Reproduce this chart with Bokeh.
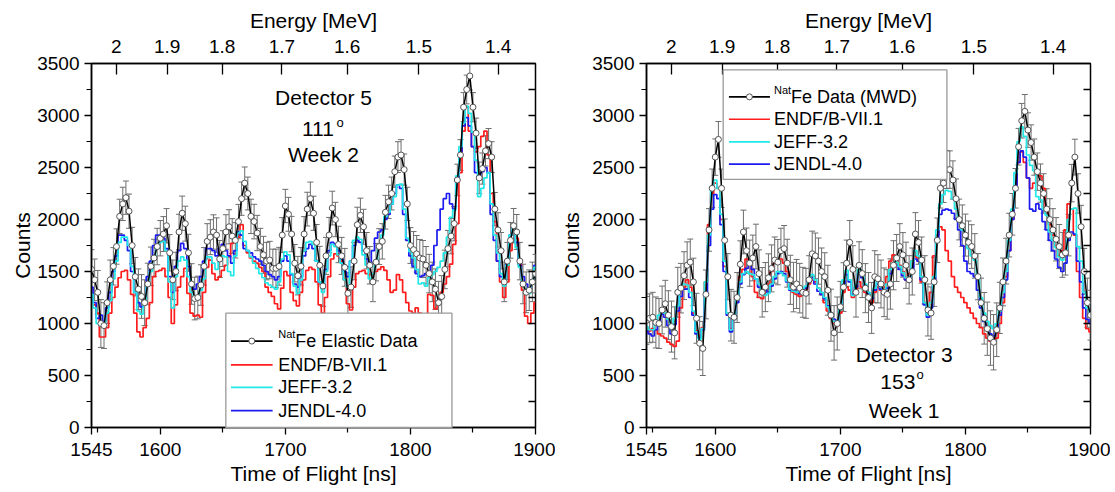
import math
from bokeh.plotting import figure
from bokeh.models import Range1d, LinearAxis, FixedTicker, CustomJSTickFormatter
from bokeh.layouts import row
from bokeh.embed import file_html
from bokeh.resources import INLINE
from bokeh.core.properties import value

FONT = "Liberation Sans"

# ---------------- data ----------------
tof = [
    1545.0, 1547.5, 1550.0, 1552.5, 1555.0, 1557.5, 1560.0, 1562.5, 1565.0, 1567.5,
    1570.0, 1572.5, 1575.0, 1577.5, 1580.0, 1582.5, 1585.0, 1587.5, 1590.0, 1592.5,
    1595.0, 1597.5, 1600.0, 1602.5, 1605.0, 1607.5, 1610.0, 1612.5, 1615.0, 1617.5,
    1620.0, 1622.5, 1625.0, 1627.5, 1630.0, 1632.5, 1635.0, 1637.5, 1640.0, 1642.5,
    1645.0, 1647.5, 1650.0, 1652.5, 1655.0, 1657.5, 1660.0, 1662.5, 1665.0, 1667.5,
    1670.0, 1672.5, 1675.0, 1677.5, 1680.0, 1682.5, 1685.0, 1687.5, 1690.0, 1692.5,
    1695.0, 1697.5, 1700.0, 1702.5, 1705.0, 1707.5, 1710.0, 1712.5, 1715.0, 1717.5,
    1720.0, 1722.5, 1725.0, 1727.5, 1730.0, 1732.5, 1735.0, 1737.5, 1740.0, 1742.5,
    1745.0, 1747.5, 1750.0, 1752.5, 1755.0, 1757.5, 1760.0, 1762.5, 1765.0, 1767.5,
    1770.0, 1772.5, 1775.0, 1777.5, 1780.0, 1782.5, 1785.0, 1787.5, 1790.0, 1792.5,
    1795.0, 1797.5, 1800.0, 1802.5, 1805.0, 1807.5, 1810.0, 1812.5, 1815.0, 1817.5,
    1820.0, 1822.5, 1825.0, 1827.5, 1830.0, 1832.5, 1835.0, 1837.5, 1840.0, 1842.5,
    1845.0, 1847.5, 1850.0, 1852.5, 1855.0, 1857.5, 1860.0, 1862.5, 1865.0, 1867.5,
    1870.0, 1872.5, 1875.0, 1877.5, 1880.0, 1882.5, 1885.0, 1887.5, 1890.0, 1892.5,
    1895.0, 1897.5, 1900.0,
]

# Left panel: Detector 5, 111 deg, Week 2
left_data = [
    1520, 1420, 1300, 1000, 980, 1200, 1420, 1550, 1740, 2030,
    2150, 2210, 2080, 1750, 1450, 1330, 1260, 1200, 1380, 1550,
    1630, 1740, 1820, 1860, 1940, 1680, 1420, 1500, 1880, 2060,
    1960, 1680, 1380, 1240, 1250, 1370, 1550, 1790, 1830, 1880,
    1850, 1620, 1720, 1880, 1930, 1840, 1800, 1980, 2200, 2350,
    2250, 2030, 1980, 1870, 1740, 1660, 1600, 1610, 1530, 1530,
    1550, 1850, 2130, 2050, 1860, 1580, 1460, 1550, 1860, 2100,
    2200, 2060, 1780, 1560, 1360, 1650, 1850, 2110, 2000, 1760,
    1650, 1540, 1290, 1350, 1600, 1950, 2040, 1930, 1700, 1560,
    1400, 1590, 1740, 1790, 2070, 2170, 2250, 2460, 2600, 2620,
    2480, 2150, 1750, 1710, 1670, 1630, 1620, 1560, 1480, 1400,
    1330, 1200, 1260, 1520, 1720, 1840, 1960, 2380, 2620, 3080,
    3250, 3380, 3080, 2830, 2400, 2490, 2660, 2730, 2600, 2100,
    1900, 1700, 1400, 1600, 1800, 1940, 1880, 1600, 1380, 1300,
    1320, 1400, 1480,
]
left_err = [
    190, 200, 210, 230, 220, 200, 190, 180, 170, 165,
    160, 160, 165, 175, 185, 195, 210, 220, 200, 185,
    180, 175, 170, 168, 165, 175, 190, 185, 170, 165,
    168, 178, 195, 205, 205, 195, 180, 170, 168, 165,
    166, 178, 172, 166, 164, 168, 170, 165, 160, 155,
    158, 165, 166, 170, 175, 178, 180, 180, 185, 185,
    182, 168, 160, 163, 170, 180, 185, 180, 168, 162,
    160, 164, 172, 182, 195, 178, 170, 162, 165, 175,
    178, 182, 198, 195, 180, 168, 165, 168, 175, 180,
    190, 180, 172, 170, 162, 160, 158, 150, 148, 148,
    150, 160, 172, 174, 176, 178, 178, 180, 185, 190,
    195, 205, 200, 185, 175, 170, 165, 152, 148, 140,
    138, 135, 140, 145, 152, 150, 146, 145, 148, 160,
    165, 175, 190, 180, 172, 166, 168, 180, 190, 196,
    195, 190, 185,
]
left_endf = [
    1250, 1180, 1100, 870, 870, 960, 1100, 1250, 1350, 1440,
    1500, 1510, 1420, 1280, 1100, 920, 870, 960, 1050, 1200,
    1450, 1500, 1510, 1530, 1450, 1250, 1000, 1180, 1350, 1450,
    1530, 1290, 1100, 1070, 1080, 1060, 1300, 1540, 1610, 1480,
    1420, 1450, 1510, 1560, 1640, 1770, 1800, 1830, 1950, 1750,
    1680, 1630, 1600, 1580, 1540, 1500, 1350, 1300, 1260, 1190,
    1140, 1340, 1500, 1460, 1300, 1220, 1170, 1300, 1420, 1510,
    1540, 1520, 1400, 1180, 1100, 1250, 1450, 1620, 1670, 1650,
    1600, 1420, 1190, 1130, 1350, 1480, 1500, 1510, 1480, 1470,
    1480, 1500, 1520, 1545, 1510, 1420, 1300, 1320, 1470, 1420,
    1300, 1200, 1120, 1100, 1150, 1100, 1080, 1020, 1280, 1270,
    1140, 1180, 1300, 1380, 1450, 1570, 1760, 1960, 2450, 2850,
    3080, 2850, 2700, 2650, 2700, 2800, 2850, 2620, 2250, 1980,
    1600, 1400, 1250, 1400, 1700, 1800, 1820, 1600, 1320, 1070,
    1000, 1100, 1200,
]
left_jeff = [
    1280, 1150, 1000, 980, 990, 1100, 1220, 1430, 1600, 1780,
    1830, 1830, 1750, 1550, 1300, 1120, 1090, 1200, 1380, 1500,
    1650, 1720, 1780, 1790, 1700, 1400, 1150, 1450, 1600, 1640,
    1610, 1450, 1300, 1260, 1240, 1320, 1430, 1640, 1640, 1580,
    1520, 1600, 1650, 1640, 1500, 1460, 1650, 1870, 1890, 1790,
    1700, 1640, 1580, 1530, 1480, 1440, 1390, 1370, 1350, 1330,
    1400, 1620, 1690, 1660, 1480, 1360, 1290, 1420, 1700, 1780,
    1790, 1760, 1600, 1400, 1300, 1500, 1650, 1760, 1740, 1660,
    1580, 1420, 1350, 1600, 1800, 1830, 1810, 1660, 1560, 1430,
    1480, 1600, 1720, 1850, 2030, 2070, 2150, 2220, 2330, 2340,
    2100, 1820, 1690, 1630, 1520, 1380, 1390, 1360, 1440, 1470,
    1500, 1540, 1600, 1680, 1830, 2020, 2090, 2420, 2700, 2930,
    3090, 3020, 2840, 2570, 2220, 2300, 2400, 2450, 2150, 1850,
    1680, 1480, 1360, 1560, 1850, 1930, 1730, 1540, 1400, 1330,
    1290, 1400, 1540,
]
left_jendl = [
    1350, 1200, 1050, 1080, 1020, 1150, 1300, 1500, 1650, 1850,
    1850, 1800, 1700, 1500, 1300, 1200, 1160, 1250, 1450, 1600,
    1750, 1850, 1850, 1820, 1720, 1450, 1300, 1550, 1700, 1770,
    1720, 1550, 1380, 1330, 1380, 1450, 1600, 1720, 1720, 1700,
    1650, 1720, 1760, 1700, 1650, 1580, 1700, 1880, 1850, 1720,
    1700, 1680, 1640, 1620, 1600, 1560, 1500, 1470, 1450, 1420,
    1450, 1600, 1650, 1600, 1470, 1380, 1350, 1450, 1650, 1720,
    1760, 1720, 1600, 1400, 1340, 1520, 1700, 1780, 1760, 1700,
    1620, 1500, 1450, 1600, 1750, 1800, 1780, 1700, 1620, 1580,
    1700, 1820, 1880, 1900, 2000, 2050, 2150, 2250, 2330, 2300,
    2050, 1800, 1650, 1550, 1480, 1450, 1460, 1480, 1500, 1560,
    1750, 1900, 2100, 2200, 2250, 2150, 2100, 2400, 2650, 2900,
    2980, 2900, 2700, 2450, 2380, 2460, 2500, 2450, 2050, 1800,
    1600, 1450, 1380, 1600, 1850, 1950, 1780, 1560, 1450, 1380,
    1330, 1420, 1560,
]

# Right panel: Detector 3, 153 deg, Week 1
right_data = [
    1030, 1050, 1060, 1010, 1000, 1130, 1190, 1080, 970, 910,
    1300, 1340, 1460, 1560, 1590, 1400, 1050, 810, 760, 1280,
    1900, 2300, 2600, 2770, 2300, 1800, 1450, 1080, 1060, 1250,
    1570, 1880, 1700, 1580, 1630, 1740, 1480, 1300, 1350, 1440,
    1530, 1610, 1590, 1700, 1720, 1580, 1420, 1350, 1380, 1340,
    1300, 1290, 1420, 1670, 1650, 1600, 1500, 1450, 1320, 1080,
    910, 1000, 1160, 1350, 1580, 1780, 1520, 1300, 1560, 1480,
    1340, 1250, 1150, 1450, 1430, 1380, 1300, 1280, 1380, 1560,
    1630, 1740, 1660, 1560, 1420, 1500, 1860, 1780, 1610, 1420,
    1130, 1100, 1400, 1800, 2300, 2350, 2480, 2480, 2380, 2200,
    2000, 1940, 1850, 1780, 1740, 1650, 1450, 1200, 1050, 950,
    860, 820, 940, 1150, 1400, 1600, 1850, 2050, 2300, 2700,
    2950, 3040, 2860, 2740, 2600, 2460, 2350, 2250, 2100, 2000,
    1900, 1810, 1740, 1660, 1680, 1850, 2350, 2600, 2250, 1930,
    1500, 1200, 1080,
]
right_err = [
    230, 235, 240, 245, 240, 230, 225, 235, 245, 250,
    240, 238, 230, 225, 222, 228, 240, 255, 260, 235,
    205, 185, 175, 172, 185, 205, 222, 248, 250, 240,
    225, 210, 218, 222, 220, 215, 228, 238, 236, 230,
    226, 222, 218, 216, 222, 230, 236, 238, 236, 238,
    240, 240, 232, 218, 220, 222, 226, 230, 240, 250,
    262, 255, 245, 234, 222, 210, 228, 238, 226, 230,
    236, 240, 245, 250, 232, 230, 234, 238, 242, 236,
    226, 220, 214, 222, 232, 226, 206, 210, 222, 232,
    250, 252, 236, 214, 190, 186, 182, 180, 184, 190,
    196, 200, 202, 206, 210, 214, 222, 236, 248, 256,
    262, 266, 258, 246, 230, 220, 210, 200, 190, 176,
    166, 162, 166, 170, 174, 180, 184, 190, 196, 200,
    204, 208, 212, 216, 214, 200, 180, 172, 190, 206,
    222, 236, 240,
]
right_endf = [
    960, 930, 950, 940, 900, 880, 860, 820, 800, 780,
    830, 1150, 1350, 1420, 1350, 1100, 930, 880, 960, 1400,
    1950, 2250, 2350, 2300, 2000, 1550, 1100, 950, 1060, 1250,
    1450, 1520, 1620, 1600, 1450, 1300, 1250, 1240, 1300, 1380,
    1500, 1580, 1600, 1620, 1580, 1500, 1360, 1300, 1280, 1260,
    1280, 1320, 1380, 1420, 1400, 1340, 1280, 1200, 1120, 1050,
    1000, 980, 1100, 1300, 1350, 1320, 1250, 1330, 1400, 1350,
    1300, 1260, 1200, 1300, 1350, 1320, 1350, 1450, 1600, 1660,
    1620, 1560, 1500, 1420, 1480, 1600, 1640, 1600, 1400, 1200,
    1120, 1300, 1650, 1850, 1930, 1900, 1700, 1600, 1450, 1350,
    1300, 1250, 1200, 1150, 1100, 1050, 1000, 960, 900, 860,
    830, 820, 860, 1000, 1200, 1450, 1700, 2000, 2300, 2550,
    2650, 2550, 2400, 2300, 2350, 2450, 2420, 2300, 2100, 1950,
    1850, 1750, 1650, 1700, 1900, 2150, 2100, 1850, 1500, 1250,
    1050, 950, 920,
]
right_jeff = [
    970, 940, 940, 1010, 1080, 1130, 1100, 1040, 950, 1050,
    1170, 1320, 1380, 1370, 1300, 1120, 920, 850, 950, 1400,
    1850, 2300, 2380, 2300, 2050, 1600, 1100, 940, 1060, 1230,
    1400, 1480, 1500, 1480, 1470, 1430, 1380, 1300, 1270, 1290,
    1380, 1450, 1500, 1490, 1460, 1410, 1330, 1310, 1300, 1320,
    1340, 1360, 1430, 1470, 1420, 1340, 1300, 1250, 1160, 1080,
    1020, 1000, 1130, 1420, 1510, 1420, 1270, 1380, 1520, 1480,
    1380, 1300, 1260, 1340, 1410, 1350, 1290, 1380, 1520, 1580,
    1590, 1550, 1490, 1440, 1450, 1600, 1700, 1650, 1450, 1200,
    1080, 1200, 1450, 1900, 2150, 2240, 2280, 2270, 2200, 2100,
    2000, 1900, 1830, 1720, 1650, 1610, 1450, 1250, 1100, 1020,
    980, 950, 1000, 1120, 1300, 1500, 1800, 2100, 2450, 2750,
    2890, 2800, 2620, 2520, 2470, 2220, 2190, 2100, 2040, 1880,
    1800, 1730, 1640, 1610, 1700, 2000, 2100, 2110, 1740, 1600,
    1300, 1150, 1100,
]
right_jendl = [
    930, 900, 880, 940, 1020, 1090, 1060, 980, 900, 990,
    1120, 1260, 1330, 1330, 1250, 1080, 900, 860, 940, 1300,
    1750, 2100, 2240, 2200, 1950, 1500, 1080, 920, 1040, 1200,
    1380, 1470, 1530, 1580, 1520, 1430, 1350, 1300, 1330, 1300,
    1360, 1430, 1480, 1500, 1480, 1400, 1320, 1310, 1330, 1290,
    1300, 1340, 1400, 1440, 1380, 1310, 1280, 1240, 1170, 1100,
    1040, 1010, 1150, 1380, 1470, 1400, 1280, 1350, 1480, 1440,
    1360, 1290, 1240, 1320, 1380, 1330, 1280, 1340, 1480, 1560,
    1560, 1520, 1460, 1420, 1400, 1530, 1620, 1600, 1420, 1180,
    1060, 1150, 1380, 1800, 2050, 2090, 2100, 2090, 2060, 2000,
    1900, 1750, 1600, 1500, 1480, 1450, 1320, 1150, 1020, 960,
    900, 880, 950, 1080, 1250, 1420, 1700, 2000, 2300, 2550,
    2660, 2600, 2400, 2100, 2080, 2150, 2100, 1980, 1900, 1800,
    1700, 1620, 1540, 1500, 1580, 1800, 1880, 1860, 1600, 1400,
    1150, 1040, 1000,
]

x_ticks = [1545, 1600, 1700, 1800, 1900]
x_minor_ticks = [1550, 1650, 1750, 1850]
y_ticks = [0, 500, 1000, 1500, 2000, 2500, 3000, 3500]
y_minor_ticks = [250, 750, 1250, 1750, 2250, 2750, 3250]
right_ticks = [250, 500, 750, 1000, 1250, 1500, 1750, 2000, 2250,
               2500, 2750, 3000, 3250]
energy_ticks = [2.0, 1.9, 1.8, 1.7, 1.6, 1.5, 1.4]
# time of flight <-> energy conversion: t = T0 + L / sqrt(E)
TOF_L = 2211.0
TOF_T0 = 1.5
energy_tof = [TOF_T0 + TOF_L / (e ** 0.5) for e in energy_ticks]

series_names = ["ENDF/B-VII.1", "JEFF-3.2", "JENDL-4.0"]
colors = {"ENDF/B-VII.1": "#ff1c1c", "JEFF-3.2": "#22e8e8", "JENDL-4.0": "#1c1cf0"}

X_MIN, X_MAX = 1545, 1900
Y_MIN, Y_MAX = 0, 3500


def style_axis(ax):
    ax.axis_line_width = 1.5
    ax.axis_line_color = "black"
    ax.major_tick_line_color = "black"
    ax.minor_tick_line_color = "black"
    ax.major_tick_line_width = 1.3
    ax.minor_tick_line_width = 1.2
    ax.major_label_text_font = FONT
    ax.major_label_text_font_size = "19px"
    ax.major_label_text_color = "black"
    ax.axis_label_text_font = FONT
    ax.axis_label_text_font_size = "21px"
    ax.axis_label_text_font_style = "normal"
    ax.axis_label_text_color = "black"


def build(data, err, endf, jeff, jendl, ylabel_standoff, legend, notes):
    p = figure(width=555, height=492, x_range=Range1d(X_MIN, X_MAX),
               y_range=Range1d(Y_MIN, Y_MAX), output_backend="svg",
               toolbar_location=None, min_border_left=91,
               min_border_right=20, min_border_top=63,
               min_border_bottom=65)
    p.xgrid.visible = False
    p.ygrid.visible = False
    p.outline_line_color = "black"
    p.outline_line_width = 1.5
    p.background_fill_color = "white"
    p.border_fill_color = "white"

    # error bars
    lo = [d - e for d, e in zip(data, err)]
    hi = [d + e for d, e in zip(data, err)]
    cap = 2.4
    p.segment(tof, lo, tof, hi, line_color="#6e6e6e", line_width=1)
    p.segment([t - cap for t in tof], hi, [t + cap for t in tof], hi,
              line_color="#6e6e6e", line_width=1)
    p.segment([t - cap for t in tof], lo, [t + cap for t in tof], lo,
              line_color="#6e6e6e", line_width=1)

    # evaluations
    p.step(tof, endf, mode="center", line_color=colors["ENDF/B-VII.1"], line_width=1.7)
    p.step(tof, jendl, mode="center", line_color=colors["JENDL-4.0"], line_width=1.7)
    p.step(tof, jeff, mode="center", line_color=colors["JEFF-3.2"], line_width=1.7)

    # data
    p.line(tof, data, line_color="black", line_width=1.5)
    p.scatter(tof, data, marker="circle", size=6, fill_color="white",
              line_color="#555555", line_width=1)

    # inward ticks on the right frame edge (no labels there)
    p.ray(x=[X_MAX] * len(right_ticks), y=right_ticks, length=7,
          length_units="screen", angle=math.pi, line_color="black",
          line_width=1.3)

    # axes
    p.xaxis.ticker = FixedTicker(ticks=x_ticks, minor_ticks=x_minor_ticks)
    p.xaxis.axis_label = "Time of Flight [ns]"
    p.yaxis.ticker = FixedTicker(ticks=y_ticks, minor_ticks=y_minor_ticks)
    p.yaxis.axis_label = "Counts"
    for ax in p.xaxis + p.yaxis:
        style_axis(ax)
    p.xaxis.major_tick_in = 0
    p.xaxis.major_tick_out = 7
    p.xaxis.minor_tick_in = 0
    p.xaxis.minor_tick_out = 5
    p.xaxis.major_label_standoff = 8
    p.xaxis.axis_label_standoff = 3
    p.yaxis.major_tick_in = 0
    p.yaxis.major_tick_out = 7
    p.yaxis.minor_tick_in = 0
    p.yaxis.minor_tick_out = 5
    p.yaxis.major_label_standoff = 5
    p.yaxis.axis_label_standoff = ylabel_standoff

    top = LinearAxis(
        ticker=FixedTicker(ticks=energy_tof, minor_ticks=[]),
        formatter=CustomJSTickFormatter(
            args=dict(L=TOF_L, t0=TOF_T0),
            code="const e = Math.pow(L/(tick - t0), 2);"
                 "const r = Math.round(e*10)/10;"
                 "return (Math.abs(r - Math.round(r)) < 1e-6) ? r.toFixed(0) : r.toFixed(1);"),
        axis_label="Energy [MeV]")
    style_axis(top)
    top.major_tick_in = 11
    top.major_tick_out = 0
    top.minor_tick_in = 0
    top.minor_tick_out = 0
    top.major_label_standoff = 11
    top.axis_label_standoff = 5
    p.add_layout(top, "above")

    # legend (drawn by hand so that the superscript fits)
    p.quad(left=[legend["left"]], right=[legend["right"]],
           bottom=[legend["bottom"]], top=[legend["top"]],
           fill_color="white", line_color="#9a9a9a", line_width=1.3,
           level="annotation")
    rows_y = legend["rows"]
    x0, x1 = legend["line"]
    line_cols = ["black"] + [colors[n] for n in series_names]
    p.segment([x0] * 4, rows_y, [x1] * 4, rows_y, line_color=line_cols,
              line_width=1.7, level="overlay")
    p.scatter([(x0 + x1) / 2], [rows_y[0]], marker="circle", size=6,
              fill_color="white", line_color="#555555", line_width=1,
              level="overlay")
    p.text(x=[legend["text_x"]] * 3, y=rows_y[1:], text=series_names,
           text_font=value(FONT), text_font_size="18px", text_color="black",
           text_baseline="middle", text_align="left", level="overlay")
    p.text(x=[legend["text_x"]], y=[rows_y[0] + legend["sup_dy"]], text=["Nat"],
           text_font=value(FONT), text_font_size="11px", text_color="black",
           text_baseline="middle", text_align="left", level="overlay")
    p.text(x=[legend["fe_x"]], y=[rows_y[0]], text=[legend["data_label"]],
           text_font=value(FONT), text_font_size="18px", text_color="black",
           text_baseline="middle", text_align="left", level="overlay")

    # detector notes
    p.text(x=notes["x"], y=notes["y"], text=notes["text"],
           text_font=value(FONT), text_font_size="21px", text_color="black",
           text_baseline="middle", text_align="center", level="overlay")
    p.text(x=[notes["deg_x"]], y=[notes["deg_y"]], text=["o"],
           text_font=value(FONT), text_font_size="13px", text_color="black",
           text_baseline="middle", text_align="center", level="overlay")
    return p


left_legend = dict(left=1652.4, right=1833.2, bottom=0, top=1099,
                   rows=[831, 602, 385, 163], line=(1656.5, 1689.8),
                   text_x=1694.3, fe_x=1708.0, sup_dy=72,
                   data_label="Fe Elastic Data")
left_notes = dict(x=[1730.5, 1726.0, 1730.5], y=[3171, 2866, 2623],
                  text=["Detector 5", "111", "Week 2"],
                  deg_x=1743.8, deg_y=2935)

right_legend = dict(left=1606.3, right=1785.2, bottom=2385, top=3438,
                    rows=[3179, 2964, 2746, 2532], line=(1610.9, 1643.7),
                    text_x=1646.9, fe_x=1660.6, sup_dy=68,
                    data_label="Fe Data (MWD)")
right_notes = dict(x=[1751.0, 1746.0, 1751.0], y=[705, 436, 167],
                   text=["Detector 3", "153", "Week 1"],
                   deg_x=1763.8, deg_y=505)

p1 = build(left_data, left_err, left_endf, left_jeff, left_jendl,
           0, left_legend, left_notes)
p2 = build(right_data, right_err, right_endf, right_jeff, right_jendl,
           6, right_legend, right_notes)

layout = row(p1, p2)
open("out.html", "w").write(file_html(layout, INLINE))
